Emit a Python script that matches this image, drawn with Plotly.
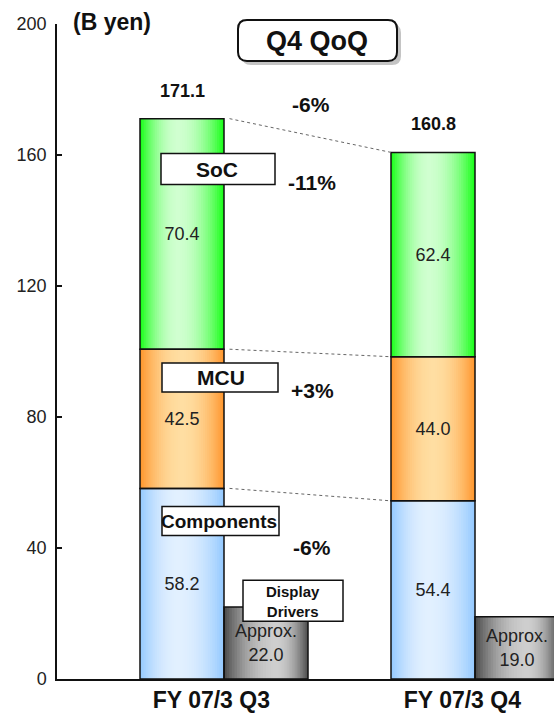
import plotly.graph_objects as go

# ---------------- data ----------------
categories = ["FY 07/3 Q3", "FY 07/3 Q4"]
components = [58.2, 54.4]
mcu = [42.5, 44.0]
soc = [70.4, 62.4]
display_drivers = [22.0, 19.0]
totals = [171.1, 160.8]
total_change = "-6%"
segment_names = ["Components", "MCU", "SoC"]
segment_changes = ["-6%", "+3%", "-11%"]
dd_name = "Display<br>Drivers"
dd_prefix = "Approx."
y_ticks = [0, 40, 80, 120, 160, 200]

# ---------------- geometry ----------------
FW, FH = 554, 713
ML, MR, MT, MB = 57, 0, 24, 32
PW, PH = FW - ML - MR, FH - MT - MB
CX0, UNIT = 182, 251          # px centre of first main bar, px per category
W = 84 / UNIT                 # bar width in data units
pos = list(range(len(categories)))
XR = [(ML - CX0) / UNIT, (FW - MR - CX0) / UNIT]

FONT = "Liberation Sans, Arial, sans-serif"


def px(xp):
    return (xp - ML) / PW


def py(yp):
    return (FH - MB - yp) / PH


def cum(*arrs):
    out = [0.0] * len(arrs[0])
    for a in arrs:
        out = [o + v for o, v in zip(out, a)]
    return out


base_comp = [0.0] * len(pos)
base_mcu = cum(components)
base_soc = cum(components, mcu)
tops = cum(components, mcu, soc)


def lerp(c0, c1, t):
    return "rgb(%d,%d,%d)" % tuple(round(a + (b - a) * t) for a, b in zip(c0, c1))


fig = go.Figure()

series = [
    # values, bases, left offset, edge colour, centre colour, light point
    (components, base_comp, -W / 2, (150, 202, 255), (226, 240, 255), 0.45),
    (mcu, base_mcu, -W / 2, (255, 152, 48), (255, 222, 162), 0.5),
    (soc, base_soc, -W / 2, (30, 255, 30), (208, 255, 208), 0.45),
    (display_drivers, base_comp, W / 2, (80, 80, 80), (206, 206, 206), 0.62),
]

N = 20
for vals, bases, off0, edge, centre, p in series:
    for k in range(N):
        s = k / N
        frac = 1 - s
        left = p - p * frac
        right = p + (1 - p) * frac
        fig.add_trace(go.Bar(
            x=pos, y=vals, base=bases,
            width=W * (right - left), offset=off0 + W * left,
            marker=dict(color=lerp(edge, centre, 1 - (1 - s) ** 2), line=dict(width=0)),
            hoverinfo="skip", showlegend=False,
        ))

# outlines + value labels
for vals, bases, off0, edge, centre, p in series:
    if vals is display_drivers:
        txt = [f"{dd_prefix}<br>{v:.1f}" for v in vals]
    else:
        txt = [f"{v:.1f}" for v in vals]
    fig.add_trace(go.Bar(
        x=pos, y=vals, base=bases, width=W, offset=off0,
        marker=dict(color="rgba(0,0,0,0)", line=dict(color="#111", width=1.5)),
        text=txt, textposition="inside", insidetextanchor="middle",
        textangle=0, constraintext="none",
        textfont=dict(family=FONT, size=18, color="#222"),
        showlegend=False, hoverinfo="skip",
    ))

# dotted connector lines between the stacks
gap = 0.022
for lvl in [tops, base_soc, base_mcu]:
    fig.add_trace(go.Scatter(
        x=[pos[0] + W / 2 + gap, pos[1] - W / 2],
        y=[lvl[0], lvl[1]], mode="lines",
        line=dict(color="#666", width=1, dash="dot"),
        showlegend=False, hoverinfo="skip",
    ))

shapes = []
annotations = []

# Q4 QoQ rounded box with shadow
def rrect(x0, y0, x1, y1, r):
    pts = (f"M {px(x0 + r)},{py(y0)} L {px(x1 - r)},{py(y0)} Q {px(x1)},{py(y0)} {px(x1)},{py(y0 + r)} "
           f"L {px(x1)},{py(y1 - r)} Q {px(x1)},{py(y1)} {px(x1 - r)},{py(y1)} "
           f"L {px(x0 + r)},{py(y1)} Q {px(x0)},{py(y1)} {px(x0)},{py(y1 - r)} "
           f"L {px(x0)},{py(y0 + r)} Q {px(x0)},{py(y0)} {px(x0 + r)},{py(y0)} Z")
    return pts

shapes.append(dict(type="path", xref="paper", yref="paper", path=rrect(242, 24, 401, 65, 9),
                   fillcolor="#c4c4c4", line=dict(width=0)))
shapes.append(dict(type="path", xref="paper", yref="paper", path=rrect(238, 20, 397, 61, 9),
                   fillcolor="white", line=dict(color="#111", width=2)))
annotations.append(dict(xref="paper", yref="paper", x=px(317), y=py(41), text="<b>Q4 QoQ</b>",
                        showarrow=False, font=dict(family=FONT, size=27, color="#111"),
                        xanchor="center", yanchor="middle"))

# unit label
annotations.append(dict(xref="paper", yref="paper", x=px(112), y=py(22), text="<b>(B yen)</b>",
                        showarrow=False, font=dict(family=FONT, size=23, color="#111"),
                        xanchor="center", yanchor="middle"))

# totals above bars
for p_, t in zip(pos, totals):
    annotations.append(dict(xref="x", yref="y", x=p_, y=t, yshift=28, text=f"<b>{t:.1f}</b>",
                            showarrow=False, font=dict(family=FONT, size=18, color="#111"),
                            xanchor="center", yanchor="middle"))

annotations.append(dict(xref="paper", yref="paper", x=px(311), y=py(105), text=f"<b>{total_change}</b>",
                        showarrow=False, font=dict(family=FONT, size=21, color="#111"),
                        xanchor="center", yanchor="middle"))

# segment name boxes and changes
boxes = {  # name: (x0, y0, x1, y1, text cx, text cy, size)
    "Components": (162, 508, 279, 537, 219, 523, 19),
    "MCU": (162, 364, 278, 393, 221, 379, 21),
    "SoC": (161, 154, 275, 185, 217, 170, 21),
}
change_y = {"Components": 549, "MCU": 392, "SoC": 183}
for name, chg in zip(segment_names, segment_changes):
    x0, y0, x1, y1, cx, cy, fs = boxes[name]
    shapes.append(dict(type="rect", xref="paper", yref="paper", x0=px(x0), x1=px(x1), y0=py(y0), y1=py(y1),
                       fillcolor="white", line=dict(color="#111", width=1.5)))
    annotations.append(dict(xref="paper", yref="paper", x=px(cx), y=py(cy), text=f"<b>{name}</b>",
                            showarrow=False, font=dict(family=FONT, size=fs, color="#111"),
                            xanchor="center", yanchor="middle"))
    annotations.append(dict(xref="paper", yref="paper", x=px(312), y=py(change_y[name]), text=f"<b>{chg}</b>",
                            showarrow=False, font=dict(family=FONT, size=21, color="#111"),
                            xanchor="center", yanchor="middle"))

# display drivers box
shapes.append(dict(type="rect", xref="paper", yref="paper", x0=px(243), x1=px(343), y0=py(582), y1=py(623),
                   fillcolor="white", line=dict(color="#111", width=1.5)))
annotations.append(dict(xref="paper", yref="paper", x=px(293), y=py(603), text=f"<b>{dd_name}</b>",
                        showarrow=False, font=dict(family=FONT, size=15, color="#111"),
                        xanchor="center", yanchor="middle"))

fig.update_layout(
    width=FW, height=FH,
    margin=dict(l=ML, r=MR, t=MT, b=MB, pad=0),
    barmode="overlay",
    plot_bgcolor="white", paper_bgcolor="white",
    shapes=shapes, annotations=annotations,
    showlegend=False,
    font=dict(family=FONT),
)
fig.update_xaxes(
    range=XR, showgrid=False, zeroline=False,
    showline=True, linecolor="#111", linewidth=1.5,
    tickvals=[p_ + 0.117 for p_ in pos], ticktext=categories,
    ticks="", tickfont=dict(family=FONT, size=23, color="#111", weight="bold"),
    fixedrange=True,
)
fig.update_yaxes(
    range=[0, 200], tickvals=y_ticks, showgrid=False, zeroline=False,
    showline=True, linecolor="#111", linewidth=1.5,
    ticks="inside", ticklen=5, tickwidth=1.5, tickcolor="#111",
    tickfont=dict(family=FONT, size=18, color="#222"), ticklabelstandoff=5,
    fixedrange=True,
)

fig.write_html(
    "out.html",
    config={"displayModeBar": False},
    post_script="document.body.style.margin='0';document.body.style.padding='0';",
)
